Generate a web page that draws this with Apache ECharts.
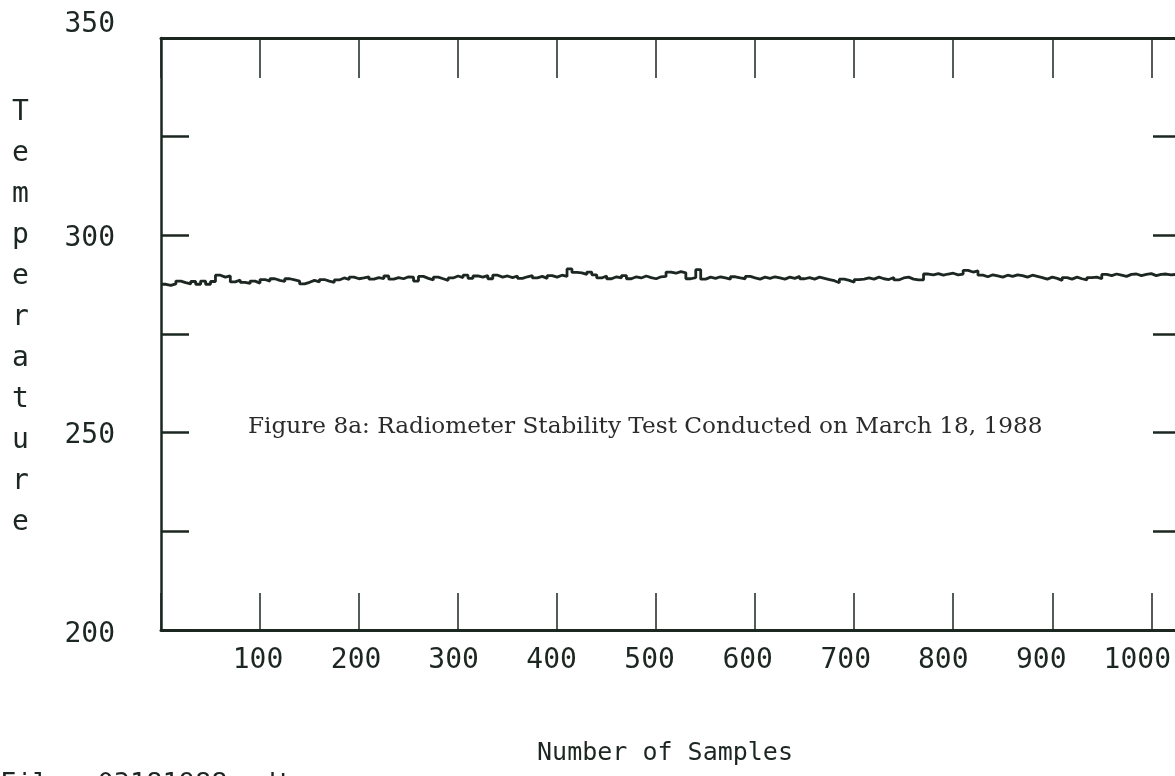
<!DOCTYPE html>
<html>
<head>
<meta charset="utf-8">
<script src="https://cdn.jsdelivr.net/npm/echarts@6/dist/echarts.min.js"></script>
<style>
  html, body { margin: 0; padding: 0; background: #fff; }
  #chart { width: 1175px; height: 776px; }
</style>
</head>
<body>
<div id="chart"></div>
<script>
// Radiometer stability run, 18 March 1988: one reading kept every SAMPLE_STEP samples
const SAMPLE_STEP = 5;
const temperature = [
  287.6, 287.3, 287.7,
  288.4, 288.0,
  287.7, 288.3, 287.6,
  288.4, 287.6, 288.3,
  289.9, 289.4, 289.7,
  288.2, 288.7, 288.1,
  287.8, 288.4, 287.9,
  288.8, 288.4, 289.0, 288.6, 288.3, 289.0, 288.7, 288.4,
  287.7, 288.1,
  288.6, 288.2, 288.8, 288.4, 288.1, 288.7,
  289.2, 288.8, 289.4, 289.0,
  289.2, 289.5, 288.9, 289.3, 289.0, 289.7, 288.9, 289.3, 289.0, 289.5,
  289.4, 288.4, 289.6, 289.1, 288.7, 289.4,
  289.0, 288.6, 289.2,
  289.7, 289.3, 289.9, 289.1, 289.7, 289.4, 289.8, 289.0, 289.9, 289.4, 289.7,
  289.3, 289.7, 289.1, 289.5, 289.8, 289.2, 289.6, 289.1, 289.8, 289.4, 289.9, 289.6,
  291.5, 290.6,
  290.5, 290.1, 290.7, 290.0,
  289.2, 289.7, 289.0, 289.5, 289.2, 289.8, 289.0, 289.5, 289.2, 289.7, 289.3, 289.0, 289.5, 289.6,
  290.7, 290.4, 290.8, 290.5,
  289.0, 289.3, 291.3, 288.9,
  289.4, 289.1, 289.5, 289.2, 288.9, 289.5, 289.2, 289.0, 289.6, 289.2, 288.9, 289.4,
  289.1, 289.5, 289.2, 288.9, 289.4, 289.1, 289.6, 289.0, 289.3, 288.9, 289.4, 289.1,
  288.8, 288.5, 288.0, 288.9, 288.6, 288.1, 288.8, 288.9,
  289.2, 288.9, 289.4, 289.0, 288.8, 289.3, 288.7, 289.2, 289.4, 288.9, 288.7,
  288.7,
  290.2, 290.0, 290.3, 289.9, 290.2, 290.4, 290.0, 290.2,
  291.1, 290.7, 291.0,
  289.9, 289.5, 290.0, 289.7, 289.4, 289.9, 289.6, 290.0, 289.8, 289.4, 289.9, 289.6,
  289.3, 288.9, 289.4, 289.1, 288.6, 289.3, 288.9, 289.4, 289.0, 288.7, 289.3, 289.4, 289.0,
  290.1, 289.8, 290.2, 289.9, 289.6, 290.1, 290.2, 289.8, 290.1, 290.3, 289.8, 290.1, 290.2, 290.0,
  290.1, 290.0
];
const yTickLabels = [200, 250, 300, 350];
const xTickLabels = [100, 200, 300, 400, 500, 600, 700, 800, 900, 1000];
const yTitle = 'Temperature';
const xTitle = 'Number of Samples';
const caption = 'Figure 8a: Radiometer Stability Test Conducted on March 18, 1988';
const fileTag = 'File: 03181988.rdt';

const INK = '#1d2722';
const MONO = '"DejaVu Sans Mono", "Liberation Mono", monospace';

const points = temperature.map((v, i) => [i * SAMPLE_STEP, v]);

// the plotter printed the bottom numbers on a slightly tighter pitch than the ticks,
// so each label is nudged left a little more than the one before it
const xLabelRich = {};
xTickLabels.forEach(v => {
  const nudge = 1 + v * 0.011 + (v === 1000 ? 2 : 0);
  xLabelRich['n' + v] = { color: INK, fontFamily: MONO, fontSize: 28, padding: [0, Math.round(nudge * 2), 0, 0] };
});

// left-hand numbers sit a touch below their ticks, except the top one which rides above the frame
const yLabelRich = {
  up: { color: INK, fontFamily: MONO, fontSize: 28, padding: [0, 0, 26, 0] },
  mid: { color: INK, fontFamily: MONO, fontSize: 28, padding: [6, 0, 0, 0] },
  low: { color: INK, fontFamily: MONO, fontSize: 28, padding: [10, 0, 0, 0] }
};
function yLabel(v) {
  if (yTickLabels.indexOf(v) < 0) return '';
  if (v === 350) return '{up|' + v + '}';
  if (v === 200) return '{low|' + v + '}';
  return '{mid|' + v + '}';
}

const chart = echarts.init(document.getElementById('chart'), null, { renderer: 'canvas' });

chart.setOption({
  backgroundColor: '#ffffff',
  animation: false,
  title: {
    text: caption,
    left: 243,
    top: 410,
    textStyle: { fontFamily: '"DejaVu Serif", "Liberation Serif", serif', fontWeight: 'normal', fontSize: 23.2, color: '#2b2b2b' }
  },
  grid: { left: 161, top: 38, width: 1020, height: 592, outerBoundsMode: 'none', containLabel: false },
  xAxis: [
    {
      type: 'value', position: 'bottom', min: 0, max: 1030, interval: 100,
      splitLine: { show: false },
      axisLine: { show: true, onZero: false, lineStyle: { color: INK, width: 3 } },
      axisTick: { show: true, inside: true, length: 37, lineStyle: { color: INK, width: 1.5 } },
      axisLabel: {
        show: true, margin: 17, color: INK, fontFamily: MONO, fontSize: 28,
        formatter: v => (xTickLabels.indexOf(v) >= 0 ? '{n' + v + '|' + v + '}' : ''),
        rich: xLabelRich
      },
      name: xTitle, nameLocation: 'middle', nameGap: 111,
      nameTextStyle: { color: INK, fontFamily: MONO, fontSize: 25, padding: [0, 12, 0, 0] }
    },
    {
      type: 'value', position: 'top', min: 0, max: 1030, interval: 100,
      splitLine: { show: false },
      axisLine: { show: true, onZero: false, lineStyle: { color: INK, width: 3 } },
      axisTick: { show: true, inside: true, length: 40, lineStyle: { color: INK, width: 1.5 } },
      axisLabel: { show: false }
    }
  ],
  yAxis: [
    {
      type: 'value', position: 'left', min: 200, max: 350, interval: 25,
      splitLine: { show: false },
      axisLine: { show: true, onZero: false, lineStyle: { color: INK, width: 2.5 } },
      axisTick: { show: true, inside: true, length: 28, lineStyle: { color: INK, width: 2.5 } },
      axisLabel: {
        show: true, margin: 46, color: INK, fontFamily: MONO, fontSize: 28,
        formatter: yLabel,
        rich: yLabelRich
      }
    },
    {
      type: 'value', position: 'right', min: 200, max: 350, interval: 25,
      splitLine: { show: false },
      axisLine: { show: false, onZero: false },
      axisTick: { show: true, inside: true, length: 28, lineStyle: { color: INK, width: 2.5 } },
      axisLabel: { show: false }
    }
  ],
  graphic: [
    {
      type: 'text', left: 12, top: 92,
      style: {
        text: yTitle.split('').join('\n'),
        fill: INK, font: '28px ' + MONO, lineHeight: 41, align: 'center'
      }
    },
    {
      type: 'text', left: 0, top: 771,
      style: { text: fileTag, fill: INK, font: '27px ' + MONO }
    }
  ],
  series: [
    {
      type: 'line', xAxisIndex: 0, yAxisIndex: 0,
      data: points, step: 'end', showSymbol: false, symbol: 'none',
      lineStyle: { color: INK, width: 2.8 }
    }
  ]
});
</script>
</body>
</html>
